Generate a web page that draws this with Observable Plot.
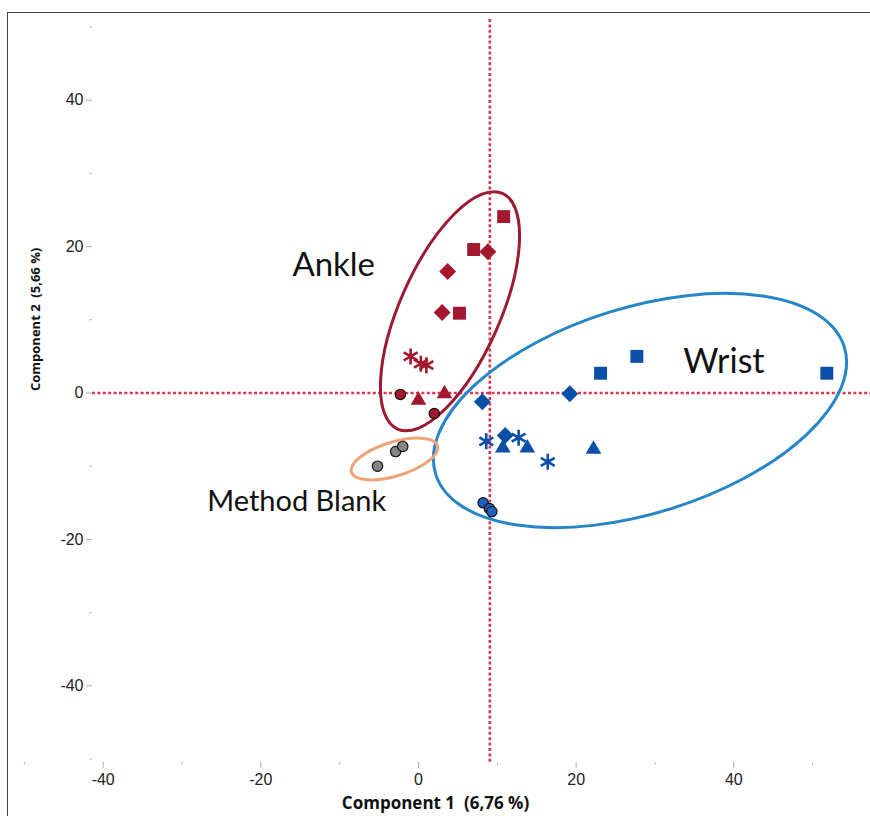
<!DOCTYPE html>
<html>
<head>
<meta charset="utf-8">
<script src="https://cdn.jsdelivr.net/npm/d3@7"></script>
<script src="https://cdn.jsdelivr.net/npm/@observablehq/plot@0.6"></script>
<style>
  html, body { margin: 0; padding: 0; background: #fff; }
  #wrap { position: relative; width: 870px; height: 816px; overflow: hidden; }
  #border { position: absolute; left: 7px; top: 12px; right: -10px; bottom: -10px;
            border-left: 1.5px solid #444; border-top: 1.5px solid #444; pointer-events: none; }
</style>
</head>
<body>
<div id="wrap"><div id="border"></div></div>
<script>
// ---- Data ----
const ankle = [
  {shape: "square",   x: 10.8, y: 24.1},
  {shape: "square",   x: 7.0,  y: 19.6},
  {shape: "square",   x: 5.2,  y: 10.9},
  {shape: "diamond",  x: 8.8,  y: 19.3},
  {shape: "diamond",  x: 3.7,  y: 16.6},
  {shape: "diamond",  x: 3.0,  y: 11.0},
  {shape: "asterisk", x: -1.0, y: 5.0},
  {shape: "asterisk", x: 0.3,  y: 4.0},
  {shape: "asterisk", x: 1.0,  y: 3.8},
  {shape: "triangle", x: 0.0,  y: -1.0},
  {shape: "triangle", x: 3.3,  y: -0.1},
  {shape: "circle",   x: -2.3, y: -0.2},
  {shape: "circle",   x: 2.0,  y: -2.8}
];
const wrist = [
  {shape: "square",   x: 23.1, y: 2.7},
  {shape: "square",   x: 27.7, y: 5.0},
  {shape: "square",   x: 51.8, y: 2.7},
  {shape: "diamond",  x: 8.1,  y: -1.2},
  {shape: "diamond",  x: 19.2, y: -0.1},
  {shape: "diamond",  x: 11.0, y: -5.8},
  {shape: "asterisk", x: 8.6,  y: -6.6},
  {shape: "asterisk", x: 12.7, y: -6.1},
  {shape: "asterisk", x: 16.4, y: -9.4},
  {shape: "triangle", x: 10.7, y: -7.5},
  {shape: "triangle", x: 13.8, y: -7.5},
  {shape: "triangle", x: 22.2, y: -7.7},
  {shape: "circle",   x: 8.2,  y: -15.0},
  {shape: "circle",   x: 9.0,  y: -15.8},
  {shape: "circle",   x: 9.3,  y: -16.2}
];
const blank = [
  {shape: "circle", x: -5.2, y: -10.0},
  {shape: "circle", x: -2.9, y: -8.0},
  {shape: "circle", x: -2.0, y: -7.3}
];
const groupLabels = [
  {text: "Ankle",        x: -16.0, y: 17.4, size: 33, spacing: 0.5},
  {text: "Wrist",        x: 33.6,  y: 4.2,  size: 34, spacing: 1.5},
  {text: "Method Blank", x: -26.8, y: -14.8, size: 29, spacing: 0.8}
];
// group ellipses: centre in data units, radii in px, rotation in degrees
const groupEllipses = [
  {cx: 4.06,  cy: 11.1,  rx: 129, ry: 50,  angle: -66,   color: "#9a1b32"},
  {cx: 28.16, cy: -2.46, rx: 214, ry: 103, angle: -17.3, color: "#2585c7"},
  {cx: -2.98, cy: -9.08, rx: 45,  ry: 17,  angle: -17,   color: "#eda477"}
];
const xMajor = [-40, -20, 0, 20, 40];
const xMinor = [-50, -30, -10, 10, 30, 50];
const yMajor = [-40, -20, 0, 20, 40];
const yMinor = [-50, -30, -10, 10, 30, 50];
const refX = 9.05;   // vertical reference line
const refY = 0;      // horizontal reference line
const xTitle = "Component 1  (6,76 %)";
const yTitle = "Component 2  (5,66 %)";

// ---- Styles ----
const RED = "#a3182e", BLUE = "#0b4fa8", BLUE_C = "#1f5fc0", GRAY = "#858585";
const DASH = "#d6364e";

function groupMarks(data, color, circleFill) {
  const f = s => data.filter(d => d.shape === s);
  return [
    Plot.dot(f("square"),   {x: "x", y: "y", symbol: "square",   r: 7.3, fill: color, stroke: "none"}),
    Plot.dot(f("diamond"),  {x: "x", y: "y", symbol: "diamond2", r: 7.6, fill: color, stroke: "none"}),
    Plot.dot(f("triangle"), {x: "x", y: "y", symbol: "triangle", r: 5.8, fill: color, stroke: "none"}),
    Plot.dot(f("asterisk"), {x: "x", y: "y", symbol: "asterisk", r: 7.6, fill: "none", stroke: color, strokeWidth: 2.6}),
    Plot.dot(f("circle"),   {x: "x", y: "y", symbol: "circle",   r: 5.2, fill: circleFill || color, stroke: "#111", strokeWidth: 1.2})
  ];
}

function ellipseMark(e) {
  return (index, scales) => {
    const ns = "http://www.w3.org/2000/svg";
    const el = document.createElementNS(ns, "ellipse");
    el.setAttribute("cx", 0);
    el.setAttribute("cy", 0);
    el.setAttribute("rx", e.rx);
    el.setAttribute("ry", e.ry);
    el.setAttribute("fill", "none");
    el.setAttribute("stroke", e.color);
    el.setAttribute("stroke-width", 3);
    el.setAttribute("transform", `translate(${scales.x(e.cx)},${scales.y(e.cy)}) rotate(${e.angle})`);
    return el;
  };
}

// pixel calibration of the reference: x0 at 418px, 7.8825 px/unit; y0 at 392.5px, 7.32 px/unit
const W = 870, H = 816, mL = 92, mR = 0, mT = 19, mB = 54;
const xDomain = [(mL - 418) / 7.8825, (W - mR - 418) / 7.8825];
const yDomain = [(392.5 - (H - mB)) / 7.32, (392.5 - mT) / 7.32];

const fmt = d => String(d);
const chart = Plot.plot({
  width: W, height: H,
  marginLeft: mL, marginRight: mR, marginTop: mT, marginBottom: mB,
  style: {background: "transparent", fontFamily: "Liberation Sans, Arial, sans-serif", overflow: "visible"},
  x: {domain: xDomain, axis: null},
  y: {domain: yDomain, axis: null},
  marks: [
    Plot.ruleX([refX], {stroke: DASH, strokeWidth: 2.6, strokeDasharray: "3,2.4"}),
    Plot.ruleY([refY], {stroke: DASH, strokeWidth: 2.6, strokeDasharray: "3,2.4"}),
    // axes
    Plot.axisY({ticks: yMajor, anchor: "left", tickSize: 6, tickPadding: 3, fontSize: 16, stroke: "#aaa", fill: "#222", tickFormat: fmt, label: null}),
    Plot.axisY({ticks: yMinor, anchor: "left", tickSize: 3, tickFormat: () => "", stroke: "#bbb", label: null}),
    Plot.axisX({ticks: xMajor, anchor: "bottom", tickSize: 6, tickPadding: 5, fontSize: 16, stroke: "#aaa", fill: "#222", tickFormat: fmt, label: null}),
    Plot.axisX({ticks: xMinor, anchor: "bottom", tickSize: 3, tickFormat: () => "", stroke: "#bbb", label: null}),
    Plot.text([xTitle], {frameAnchor: "bottom", dx: -46, dy: 46, text: d => d, fontSize: 17, fontWeight: "bold", fill: "#111", fontFamily: "Open Sans, Liberation Sans, sans-serif"}),
    Plot.text([yTitle], {frameAnchor: "left", dx: -57, rotate: -90, text: d => d, fontSize: 13, fontWeight: "bold", fill: "#111", fontFamily: "Open Sans, Liberation Sans, sans-serif"}),
    // ellipses
    ...groupEllipses.map(ellipseMark),
    // points
    ...groupMarks(blank, GRAY, GRAY),
    ...groupMarks(ankle, RED),
    ...groupMarks(wrist, BLUE, BLUE_C),
    // group labels
    ...groupLabels.map(l => Plot.text([l], {x: "x", y: "y", text: "text", fontSize: l.size, textAnchor: "start", lineAnchor: "middle", fill: "#111", fontFamily: "Lato, Open Sans, sans-serif", style: `letter-spacing:${l.spacing}px`}))
  ]
});
document.getElementById("wrap").appendChild(chart);
</script>
</body>
</html>
